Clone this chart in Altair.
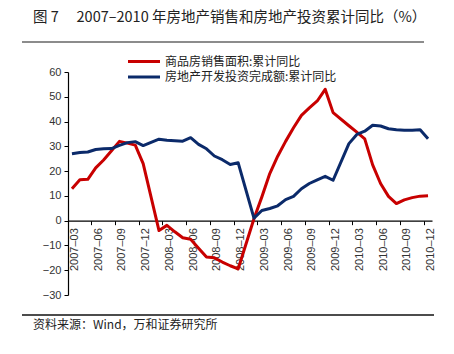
import altair as alt
import pandas as pd

months = [f"{y}-{m:02d}" for y in (2007, 2008, 2009, 2010) for m in range(1, 13)]
months = months[2:]  # 2007-03 .. 2010-12

# None = month not shown (January, combined with February)
sales_area = [12.9, 16.5, 16.7, 21.3, 24.5, 28.2, 32.0, 31.3, 30.5, 23.0,
              None, -4.0, -1.9, -4.5, -6.9, -7.5, -11.1, -14.7, -15.0, -16.7, -18.2, -19.5,
              None, 0.8, 9.6, 19.0, 26.0, 32.0, 37.5, 42.5, 45.5, 48.3, 53.0, 43.6,
              None, 38.3, 35.7, 33.0, 22.5, 15.0, 9.8, 6.9, 8.4, 9.3, 9.9, 10.1]
investment = [27.0, 27.5, 27.7, 28.7, 29.0, 29.1, 30.4, 31.5, 31.9, 30.3,
              None, 32.9, 32.5, 32.3, 32.1, 33.5, 30.8, 29.0, 26.1, 24.6, 22.7, 23.4,
              None, 1.0, 4.1, 4.9, 6.0, 8.5, 9.8, 12.9, 15.0, 16.5, 17.9, 16.3,
              None, 31.1, 34.8, 36.1, 38.5, 38.2, 37.1, 36.7, 36.5, 36.5, 36.7, 33.1]

series_names = ["商品房销售面积:累计同比", "房地产开发投资完成额:累计同比"]
series_colors = ["#C80000", "#0B2A6A"]
tick_months = months[::3]

title_text = "图\u00a07\u3000\u00a02007–2010\u00a0年房地产销售和房地产投资累计同比（%）"
source_text = "资料来源：Wind，万和证券研究所"

rows = []
for name, vals in zip(series_names, [sales_area, investment]):
    for m, v in zip(months, vals):
        if v is not None:
            rows.append({"month": m, "value": v, "series": name})
df = pd.DataFrame(rows)

W, H = 364, 223
YMIN, YMAX = -30, 60
zero_offset = -(0 - YMIN) / (YMAX - YMIN) * H

lines = alt.Chart(df).mark_line(strokeWidth=3, strokeJoin="round").encode(
    x=alt.X("month:O",
            scale=alt.Scale(type="band", domain=months, paddingInner=0, paddingOuter=0),
            axis=alt.Axis(values=tick_months, bandPosition=0, labelAngle=270,
                          labelExpr="replace(datum.label, '-', '–')",
                          title=None, offset=zero_offset, labelOffset=3,
                          tickSize=4, labelPadding=3, labelFontSize=11,
                          labelFont="Liberation Sans", labelColor="#333333",
                          domainColor="#000000", tickColor="#000000",
                          domainWidth=1.2, grid=False)),
    y=alt.Y("value:Q",
            scale=alt.Scale(domain=[YMIN, YMAX], nice=False, zero=False),
            axis=alt.Axis(values=list(range(-30, 61, 10)), title=None, tickSize=4,
                          labelFontSize=11, labelFont="Liberation Sans",
                          labelColor="#333333", domainColor="#000000",
                          tickColor="#000000", domainWidth=1.2, grid=False,
                          labelPadding=3)),
    color=alt.Color("series:N",
                    scale=alt.Scale(domain=series_names, range=series_colors),
                    legend=None),
)

title_df = pd.DataFrame({"t": [title_text]})
source_df = pd.DataFrame({"t": [source_text]})

title = alt.Chart(title_df).mark_text(align="left", baseline="middle", fontSize=14.5,
                                      font="Noto Sans CJK SC", color="#222222").encode(
    text="t:N", x=alt.value(-35), y=alt.value(-54))
source = alt.Chart(source_df).mark_text(align="left", baseline="middle", fontSize=12,
                                        font="Noto Sans CJK SC", color="#222222").encode(
    text="t:N", x=alt.value(-35), y=alt.value(253))
top_rule = alt.Chart(title_df).mark_rule(color="#8C8C8C", strokeWidth=2).encode(
    x=alt.value(-46), x2=alt.value(356), y=alt.value(-30))
bottom_rule = alt.Chart(title_df).mark_rule(color="#111111", strokeWidth=1.3).encode(
    x=alt.value(-46), x2=alt.value(366), y=alt.value(243))

# legend (two entries)
legend_layers = []
for k, (name, col) in enumerate(zip(series_names, series_colors)):
    ldf = pd.DataFrame({"t": [name]})
    ly = -10.5 + 15.5 * k
    legend_layers.append(alt.Chart(ldf).mark_rule(color=col, strokeWidth=3).encode(
        x=alt.value(60), x2=alt.value(92), y=alt.value(ly)))
    legend_layers.append(alt.Chart(ldf).mark_text(
        align="left", baseline="middle", fontSize=12, font="Noto Sans CJK SC",
        color="#222222").encode(text="t:N", x=alt.value(97), y=alt.value(ly)))

chart = alt.layer(lines, title, source, top_rule, bottom_rule, *legend_layers).properties(
    width=W, height=H,
    autosize=alt.AutoSizeParams(type="none"),
    padding={"left": 68, "top": 72, "right": 22, "bottom": 59},
    background="white",
).configure_view(stroke=None)

chart.save("out.html", embed_options={"renderer": "svg", "actions": False})
